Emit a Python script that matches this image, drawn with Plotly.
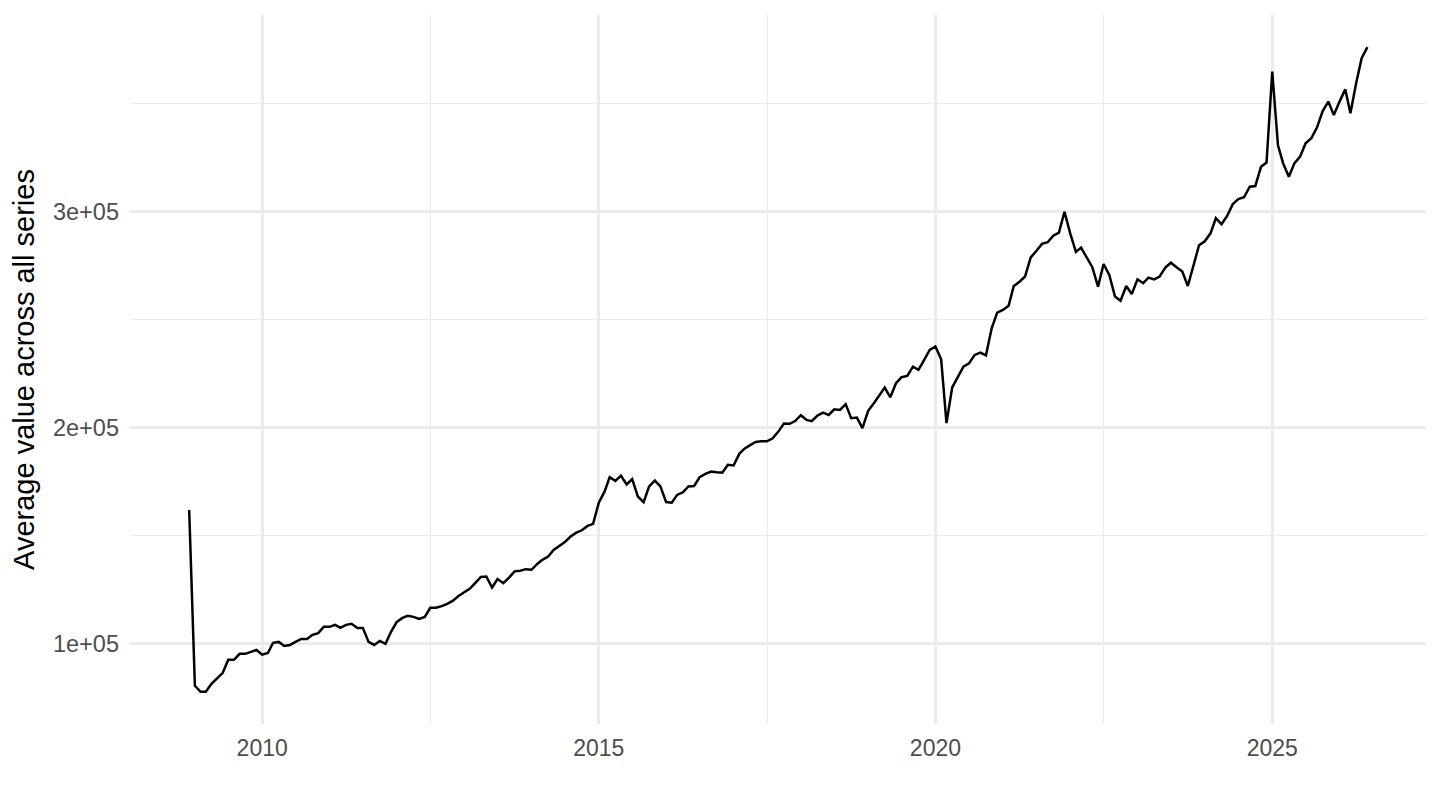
import plotly.graph_objects as go
import pandas as pd

# monthly averages (thousands), Dec 2008 .. Jun 2026
start_month = "2008-12-01"
avg_k = [
    162.0, 80.6, 77.8, 77.8, 81.5, 83.8, 86.6, 92.6, 92.6, 95.4,
    95.4, 96.3, 97.2, 95.0, 95.8, 100.5, 100.9, 99.0, 99.5, 100.9,
    102.3, 102.3, 104.2, 105.0, 107.9, 107.9, 108.8, 107.4, 108.8, 109.3,
    107.4, 107.4, 100.9, 99.5, 101.4, 100.0, 105.6, 110.2, 112.0, 113.0,
    112.5, 111.6, 112.5, 116.7, 116.7, 117.5, 118.5, 120.0, 122.2, 123.9,
    125.6, 128.1, 131.0, 131.2, 126.1, 130.0, 128.1, 130.7, 133.6, 133.9,
    134.6, 134.3, 137.0, 138.9, 140.4, 143.5, 145.4, 147.2, 149.7, 151.5,
    152.6, 154.6, 155.6, 165.4, 170.5, 177.2, 175.5, 177.9, 173.8, 176.3,
    168.2, 165.6, 172.9, 175.6, 172.9, 165.7, 165.4, 169.0, 170.2, 172.9,
    173.1, 177.2, 178.7, 179.8, 179.5, 179.3, 182.9, 182.6, 188.0, 190.4,
    192.0, 193.5, 193.8, 193.8, 195.2, 198.3, 202.0, 201.9, 203.2, 205.9,
    203.7, 203.1, 205.7, 207.1, 206.0, 208.6, 208.3, 211.0, 204.5, 204.8,
    199.9, 207.9, 211.4, 215.1, 218.7, 214.2, 220.7, 223.5, 224.1, 228.4,
    226.9, 231.5, 236.1, 237.7, 231.8, 202.2, 218.8, 223.5, 228.4, 229.9,
    233.8, 234.9, 233.6, 246.1, 253.4, 254.6, 256.6, 265.7, 267.7, 270.1,
    279.0, 281.9, 285.2, 286.0, 289.0, 290.4, 300.1, 290.1, 281.5, 283.5,
    279.0, 274.4, 265.4, 275.9, 270.8, 260.8, 258.9, 265.7, 262.0, 268.8,
    267.0, 269.6, 268.8, 270.1, 274.2, 276.5, 274.4, 272.4, 265.7, 275.0,
    284.6, 286.4, 290.1, 297.1, 294.3, 298.1, 303.7, 306.0, 306.8, 311.7,
    312.0, 320.9, 322.9, 365.0, 330.9, 322.5, 316.3, 322.5, 325.6, 331.8,
    334.1, 339.2, 346.6, 351.1, 344.9, 351.1, 356.8, 345.7, 359.6, 371.2,
    376.3,
]

x_ticks = ["2010-01-01", "2015-01-01", "2020-01-01", "2025-01-01"]
x_ticktext = ["2010", "2015", "2020", "2025"]
x_minor = ["2012-07-02", "2017-07-02", "2022-07-02"]
y_ticks = [100000, 200000, 300000]
y_ticktext = ["1e+05", "2e+05", "3e+05"]
y_minor = [150000, 250000, 350000]

dates = pd.date_range(start_month, periods=len(avg_k), freq="MS")
values = [v * 1000 for v in avg_k]

fig = go.Figure(go.Scatter(
    x=dates, y=values, mode="lines",
    line=dict(color="black", width=2.5),
    showlegend=False,
))

grid = "#EBEBEB"
fig.update_layout(
    width=1440, height=810,
    paper_bgcolor="white", plot_bgcolor="white",
    margin=dict(l=122, r=22, t=7, b=94),
    font=dict(family="Liberation Sans, Arial, sans-serif"),
)
fig.update_xaxes(
    range=["2008-01-15", "2027-04-15"],
    tickmode="array", tickvals=x_ticks, ticktext=x_ticktext,
    tickfont=dict(size=23, color="#4D4D4D"),
    showgrid=True, gridcolor=grid, gridwidth=2.5,
    minor=dict(tickvals=x_minor, showgrid=True, gridcolor=grid, gridwidth=1.2),
    zeroline=False, showline=False, ticks="", ticklabelstandoff=8,
)
fig.update_yaxes(
    range=[62900, 391200],
    tickmode="array", tickvals=y_ticks, ticktext=y_ticktext,
    tickfont=dict(size=23.5, color="#4D4D4D"),
    showgrid=True, gridcolor=grid, gridwidth=2.5,
    minor=dict(tickvals=y_minor, showgrid=True, gridcolor=grid, gridwidth=1.2),
    zeroline=False, showline=False, ticks="", ticklabelstandoff=10,
    title=dict(text="Average value across all series",
               font=dict(size=29, color="black"), standoff=10),
)

fig.write_html("out.html")
